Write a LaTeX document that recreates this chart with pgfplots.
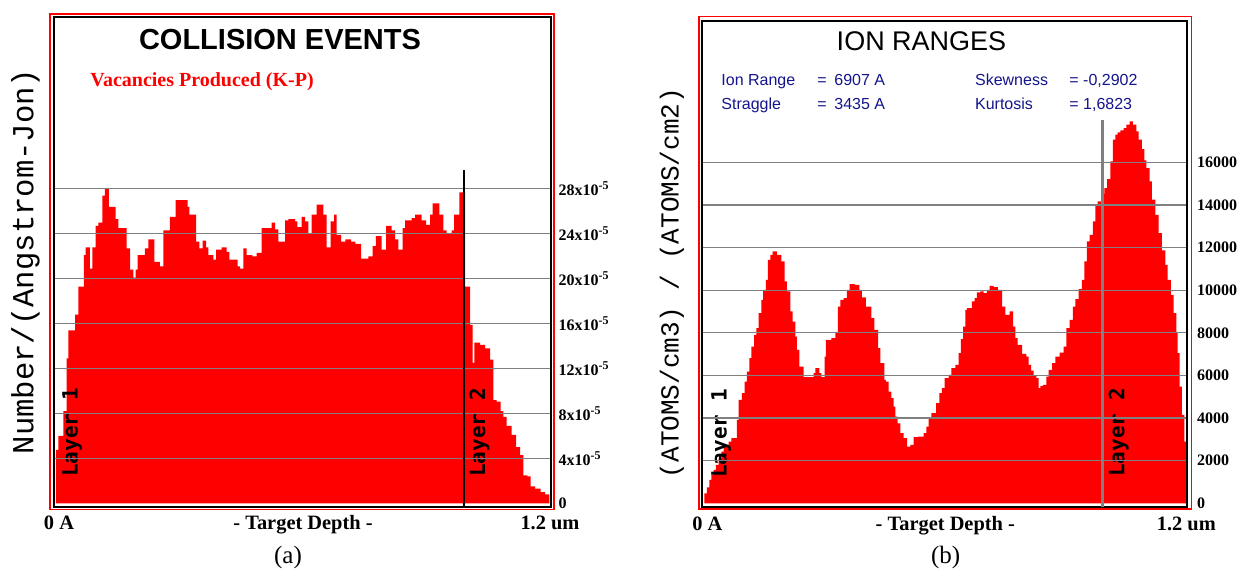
\documentclass[border=0pt]{standalone}
\usepackage{pgfplots}
\pgfplotsset{compat=1.18}
\usepackage{fontspec}
\setmainfont{Liberation Serif}
\newfontfamily\arialfont{Liberation Sans}
\newfontfamily\courfont{Liberation Mono}
\newfontfamily\layerfont{DejaVu Sans Mono}
\definecolor{srimred}{RGB}{255,0,0}
\definecolor{gridgray}{RGB}{128,128,128}
\definecolor{navy}{RGB}{20,20,140}

\pgfplotstableread{
x y
0 4.75
0.0057 6.0
0.0178 8.2
0.0259 12.9
0.0300 15.4
0.0462 16.8
0.0543 19.3
0.0680 22.1
0.0721 22.8
0.0826 20.9
0.0883 22.8
0.0964 24.7
0.1028 25.0
0.1126 27.4
0.1190 28.0
0.1287 26.4
0.1449 25.3
0.1514 24.5
0.1717 22.7
0.1798 20.8
0.1879 20.1
0.1935 20.8
0.1984 22.1
0.2162 22.7
0.2243 23.5
0.2389 21.5
0.2526 21.1
0.2607 24.3
0.2769 25.5
0.2907 27.0
0.3198 26.4
0.3239 25.7
0.3401 23.3
0.3482 22.7
0.3563 23.4
0.3644 22.8
0.3700 22.1
0.3822 21.7
0.3887 22.6
0.4024 22.8
0.4146 22.4
0.4211 21.7
0.4413 21.1
0.4470 20.9
0.4551 22.7
0.4632 22.1
0.4769 22.0
0.4874 22.3
0.4996 24.5
0.5239 25.0
0.5320 24.4
0.5401 23.3
0.5563 25.2
0.5644 25.3
0.5806 25.1
0.5862 24.6
0.5968 25.5
0.6049 25.1
0.6130 24.0
0.6211 25.7
0.6332 26.6
0.6494 25.7
0.6575 22.8
0.6672 25.1
0.6753 25.7
0.6818 23.9
0.6923 23.3
0.7028 23.5
0.7166 23.3
0.7271 23.1
0.7409 21.8
0.7587 22.0
0.7692 22.9
0.7773 23.8
0.7911 22.6
0.8016 24.7
0.8154 24.3
0.8235 23.5
0.8316 22.6
0.8421 24.5
0.8478 25.2
0.8640 25.4
0.8721 25.7
0.8883 25.2
0.8988 24.8
0.9085 25.7
0.9150 26.7
0.9312 25.7
0.9409 24.3
0.9490 24.0
0.9611 24.3
0.9668 25.7
0.9798 27.7
0.9935 19.3
1.0057 15.9
1.0121 12.5
1.0162 14.3
1.0300 14.1
1.0421 13.8
1.0543 12.8
1.0623 9.2
1.0704 9.05
1.0802 8.2
1.0866 7.7
1.0947 6.9
1.1069 6.1
1.1174 5.0
1.1271 4.3
1.1352 2.5
1.1449 2.4
1.1530 1.5
1.1636 1.3
1.1773 1.0
1.1879 0.8
1.1984 0.8
}\vacancies

\pgfplotstableread{
x y
0 470
0.0066 752
0.0124 1096
0.0174 1331
0.0232 1566
0.0290 1801
0.0357 2114
0.0423 2427
0.0481 2662
0.0539 2740
0.0606 2897
0.0672 3054
0.0813 3915
0.0855 4855
0.0938 5168
0.1004 5716
0.1062 6186
0.1120 6812
0.1170 7360
0.1237 7908
0.1295 8222
0.1353 8926
0.1419 9553
0.1461 10022
0.1535 10492
0.1585 11432
0.1643 11667
0.1701 11823
0.1809 11667
0.1917 11354
0.2000 10414
0.2058 9944
0.2141 9005
0.2199 8535
0.2266 7830
0.2307 7204
0.2365 6421
0.2473 5919
0.2722 6107
0.2763 6342
0.2863 6107
0.2913 5919
0.2996 6890
0.3029 7673
0.3162 7752
0.3261 7987
0.3328 9239
0.3386 9553
0.3469 9631
0.3552 10022
0.3618 10289
0.3743 10257
0.3859 10022
0.3925 9662
0.4025 9239
0.4158 8691
0.4232 8143
0.4324 7282
0.4382 6577
0.4481 5794
0.4523 5716
0.4589 5246
0.4656 4933
0.4714 4541
0.4755 4072
0.4813 3758
0.4880 3289
0.4963 3054
0.5046 2662
0.5129 2740
0.5212 3101
0.5320 3132
0.5461 3289
0.5527 3602
0.5585 3993
0.5651 4228
0.5768 4698
0.5851 5168
0.5917 5403
0.5983 5873
0.6083 6029
0.6149 6342
0.6249 6499
0.6332 7047
0.6390 7705
0.6440 8300
0.6498 9083
0.6539 9161
0.6664 9474
0.6730 9631
0.6788 9897
0.6871 9944
0.6954 9866
0.7037 10022
0.7104 10210
0.7203 10148
0.7311 10022
0.7411 9239
0.7494 8848
0.7602 9005
0.7685 8300
0.7743 7752
0.7801 7439
0.7909 7016
0.8017 6890
0.8075 6499
0.8133 6233
0.8199 5982
0.8266 5873
0.8324 5403
0.8365 5512
0.8432 5559
0.8515 5951
0.8573 6264
0.8656 6577
0.8739 6890
0.8846 7078
0.8946 7360
0.9012 8222
0.9095 8613
0.9178 9239
0.9237 9584
0.9320 10054
0.9402 10492
0.9461 11354
0.9527 12293
0.9593 12606
0.9676 13233
0.9734 13969
0.9793 14172
0.9876 14532
0.9959 14799
1.0025 15222
1.0108 16052
1.0174 17069
1.0232 17304
1.0290 17414
1.0357 17508
1.0440 17618
1.0506 17774
1.0589 17931
1.0672 17774
1.0755 17461
1.0813 17069
1.0896 16631
1.0954 16098
1.1004 15738
1.1087 15112
1.1145 14251
1.1228 13546
1.1311 12685
1.1394 11870
1.1477 11197
1.1535 10492
1.1618 9788
1.1685 8926
1.1751 7987
1.1784 7047
1.1834 5481
1.1892 4150
1.1950 2897
1.2000 2897
}\ionranges

\pgfplotsset{
 srim/.style={
  scale only axis, anchor=south west,
  set layers, axis on top,
  axis line style={black, line width=1pt},
  tick style={draw=none},
  scaled y ticks=false, scaled x ticks=false,
  ymajorgrids, major grid style={gridgray, line width=0.6pt},
  yticklabel pos=right,
  y tick label style={font=\fontsize{8}{9}\selectfont\bfseries},
  xtick={0,0.6,1.2},
  x tick label style={font=\fontsize{10.2}{12}\selectfont\bfseries, anchor=base, yshift=-11.5pt},
  extra y ticks={0}, extra y tick labels={0}, extra y tick style={grid=none},
 }
}

\begin{document}
\begin{tikzpicture}

% ---------- (a) collision events ----------
\begin{axis}[srim, at={(26.8pt,30.65pt)}, width=248.7pt, height=244.7pt,
  xmin=-0.0058, xmax=1.2024, ymin=-0.3, ymax=43.28,
  xticklabels={\hspace*{3pt}0 A, - Target Depth -, 1.2 um},
  ytick={4,8,...,28},
  yticklabels={4x10\textsuperscript{-5},8x10\textsuperscript{-5},12x10\textsuperscript{-5},16x10\textsuperscript{-5},20x10\textsuperscript{-5},24x10\textsuperscript{-5},28x10\textsuperscript{-5}},
  y tick label style={xshift=0.3pt}]
\addplot[draw=none, fill=srimred, const plot mark left] table[x=x,y=y] {\vacancies} \closedcycle;
\addplot[black, line width=1.35pt, on layer=axis foreground] coordinates {(0.991,-0.3) (0.991,29.7)};
\end{axis}

% ---------- (b) ion ranges ----------
\begin{axis}[srim, at={(351.15pt,30.5pt)}, width=242.35pt, height=243.15pt,
  xmin=-0.005, xmax=1.2017, ymin=-174, ymax=22657,
  xticklabels={\hspace*{3pt}0 A, - Target Depth -, 1.2 um},
  ytick={2000,4000,...,16000},
  yticklabels={2000,4000,6000,8000,10000,12000,14000,16000},
  y tick label style={xshift=1.5pt}]
\addplot[draw=none, fill=srimred, const plot mark left] table[x=x,y=y] {\ionranges} \closedcycle;
\addplot[gridgray, line width=1.1pt, on layer=axis foreground] coordinates {(0.9915,-174) (0.9915,18000)};
\end{axis}

% outer red frames
\draw[srimred, line width=0.8pt] (24.9pt,29.25pt) rectangle (277pt,277pt);
\draw[srimred, line width=0.8pt] (349.4pt,29.5pt) rectangle (595.75pt,275.65pt);

% titles
\node[font=\arialfont\bfseries\fontsize{14.5}{16}\selectfont, inner sep=0] at (140pt,264.15pt) {COLLISION EVENTS};
\node[font=\arialfont\fontsize{13.5}{15}\selectfont, inner sep=0] at (460.75pt,263.5pt) {ION RANGES};
\node[font=\bfseries\fontsize{10}{12}\selectfont, text=srimred, inner sep=0, anchor=west] at (45pt,243pt) {Vacancies Produced (K-P)};

% statistics
\begin{scope}[every node/.style={font=\arialfont\fontsize{8}{9}\selectfont, text=navy, inner sep=0, anchor=base west}]
\node at (360.5pt,241pt) {Ion Range};
\node at (408.5pt,241pt) {=};
\node at (417pt,241pt) {6907 A};
\node at (487.35pt,241pt) {Skewness};
\node at (534.5pt,241pt) {= -0,2902};
\node at (360.5pt,229pt) {Straggle};
\node at (408.5pt,229pt) {=};
\node at (417pt,229pt) {3435 A};
\node at (487.35pt,229pt) {Kurtosis};
\node at (534.5pt,229pt) {= 1,6823};
\end{scope}

% y axis titles
\node[font=\courfont\fontsize{15.3}{17}\selectfont, rotate=90, inner sep=0] at (12.75pt,153.25pt) {Number/(Angstrom-Jon)};
\node[font=\courfont\fontsize{13}{15}\selectfont, rotate=90, inner sep=0] at (336pt,142.5pt) {(ATOMS/cm3) / (ATOMS/cm2)};

% layer labels
\begin{scope}[every node/.style={font=\layerfont\bfseries\fontsize{10.5}{12}\selectfont, rotate=90, inner sep=0, anchor=base}]
\node at (38.75pt,67.75pt) {Layer 1};
\node at (242.5pt,67.75pt) {Layer 2};
\node at (363.35pt,67.25pt) {Layer 1};
\node at (562.15pt,67.75pt) {Layer 2};
\end{scope}

% panel letters
\node[font=\fontsize{12.5}{14}\selectfont, inner sep=0] at (144pt,5.5pt) {(a)};
\node[font=\fontsize{12.5}{14}\selectfont, inner sep=0] at (472.8pt,5.5pt) {(b)};

\pgfresetboundingbox
\useasboundingbox (0,0) rectangle (623pt,284pt);
\end{tikzpicture}
\end{document}
